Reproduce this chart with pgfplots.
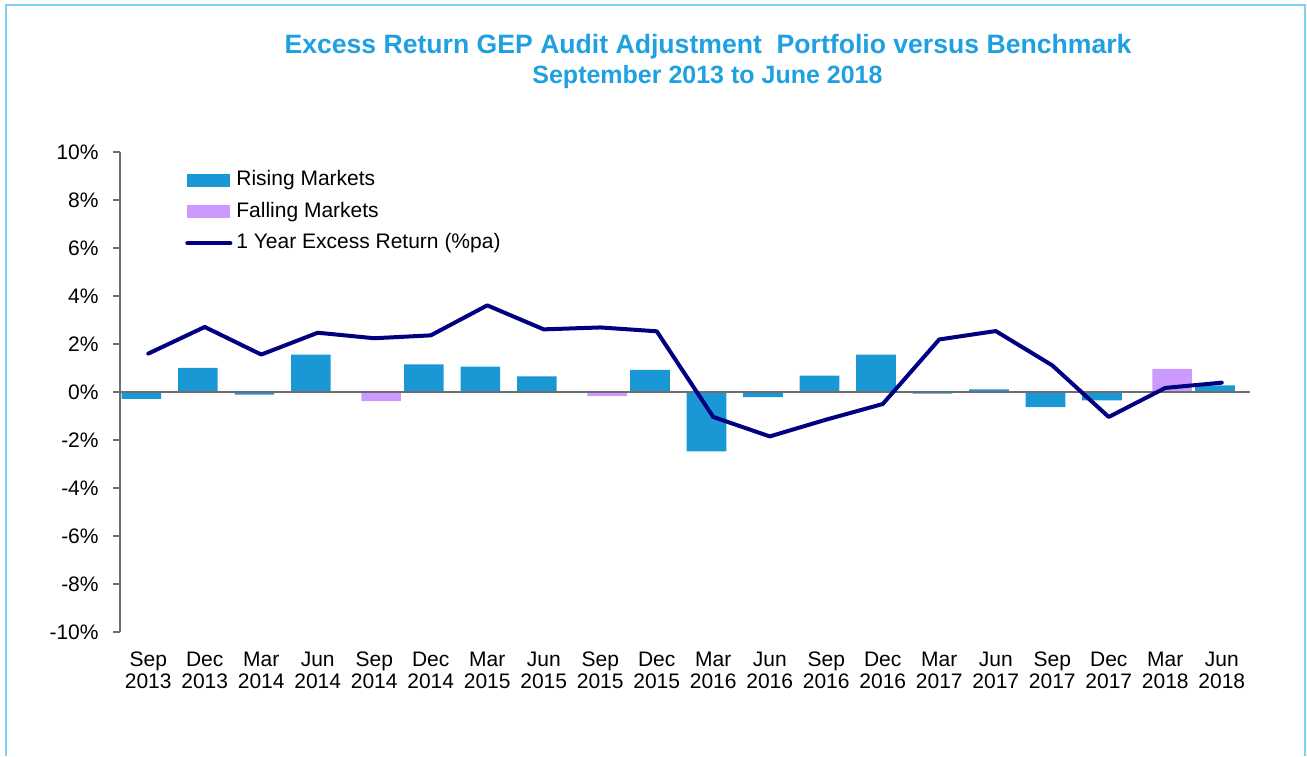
\documentclass[border=0pt]{standalone}
\usepackage{fontspec}
\setmainfont{Liberation Sans}
\usepackage{pgfplots}
\pgfplotsset{compat=1.18}
\definecolor{rise}{RGB}{26,152,213}
\definecolor{fall}{RGB}{204,153,255}
\definecolor{navyline}{RGB}{0,0,128}
\definecolor{titleblue}{RGB}{31,160,224}
\definecolor{frameblue}{RGB}{125,210,245}
\definecolor{axgray}{RGB}{110,110,110}
\begin{document}
\begin{tikzpicture}
\path[use as bounding box] (0pt,0pt) rectangle (653.5pt,-378pt);
\draw[frameblue, line width=1pt] (3pt,-378pt) -- (3pt,-2.5pt) -- (652.5pt,-2.5pt) -- (652.5pt,-378pt);
\node[font=\bfseries\fontsize{13.3}{16}\selectfont, text=titleblue] at (354pt,-23.5pt) {Excess Return GEP Audit Adjustment\ \ Portfolio versus Benchmark};
\node[font=\bfseries\fontsize{12.5}{15}\selectfont, text=titleblue] at (353.75pt,-38.5pt) {September 2013 to June 2018};
\begin{axis}[
  at={(60pt,-316pt)}, anchor=south west,
  scale only axis, width=565pt, height=240pt,
  xmin=-0.5, xmax=19.5, ymin=-10, ymax=10,
  axis lines*=left, axis line style={-},
  x axis line style={draw=none},
  y axis line style={axgray, line width=0.75pt},
  xtick={0,...,19},
  xticklabels={{Sep\\2013},{Dec\\2013},{Mar\\2014},{Jun\\2014},{Sep\\2014},{Dec\\2014},{Mar\\2015},{Jun\\2015},{Sep\\2015},{Dec\\2015},{Mar\\2016},{Jun\\2016},{Sep\\2016},{Dec\\2016},{Mar\\2017},{Jun\\2017},{Sep\\2017},{Dec\\2017},{Mar\\2018},{Jun\\2018}},
  xtick style={draw=none},
  xticklabel style={align=center, anchor=north, font=\fontsize{10.5}{11}\selectfont, inner sep=0pt, yshift=-6pt},
  typeset ticklabels with strut,
  ytick={-10,-8,...,10},
  yticklabel={\pgfmathprintnumber{\tick}\%},
  /pgf/number format/assume math mode=true,
  yticklabel style={font=\fontsize{10.5}{12}\selectfont, inner sep=0pt, xshift=-7pt},
  tick align=outside, major tick length=3.5pt,
  ytick style={axgray, line width=0.75pt},
  legend cell align=left,
  legend style={at={(0.0575,0.9635)}, anchor=north west, draw=none, fill=none,
    font=\fontsize{10.5}{12}\selectfont, inner sep=0pt, row sep=5.25pt, column sep=2pt,
    nodes={inner sep=0pt, text height=8pt, text depth=2.5pt}},
]
\addplot[ybar, bar width=0.7, bar shift=-0.12, fill=rise, draw=none,
  legend image code/.code={\fill[rise] (0pt,-3.25pt) rectangle (21.5pt,3.25pt);}]
  coordinates {(0,-0.29) (1,1.01) (2,-0.11) (3,1.56) (5,1.15) (6,1.06) (7,0.65) (9,0.92)
  (10,-2.47) (11,-0.21) (12,0.68) (13,1.56) (14,-0.07) (15,0.11) (16,-0.63) (17,-0.35) (19,0.28)};
\addlegendentry{Rising Markets}
\addplot[ybar, bar width=0.7, bar shift=0.12, fill=fall, draw=none,
  legend image code/.code={\fill[fall] (0pt,-3.25pt) rectangle (21.5pt,3.25pt);}]
  coordinates {(4,-0.375) (8,-0.17) (18,0.96)};
\addlegendentry{Falling Markets}
\addplot[axgray, line width=0.75pt, forget plot] coordinates {(-0.5,0) (19.5,0)};
\addplot[navyline, line width=2pt, line join=round, line cap=round, mark=none,
  legend image code/.code={\draw[navyline, line width=2pt] (0pt,0pt) -- (21.5pt,0pt);}]
  coordinates {(0,1.60) (1,2.71) (2,1.56) (3,2.47) (4,2.24) (5,2.36) (6,3.61) (7,2.61) (8,2.69) (9,2.53)
  (10,-1.04) (11,-1.85) (12,-1.15) (13,-0.50) (14,2.19) (15,2.54) (16,1.11) (17,-1.04) (18,0.17) (19,0.39)};
\addlegendentry{1 Year Excess Return (\%pa)}
\end{axis}
\end{tikzpicture}
\end{document}
